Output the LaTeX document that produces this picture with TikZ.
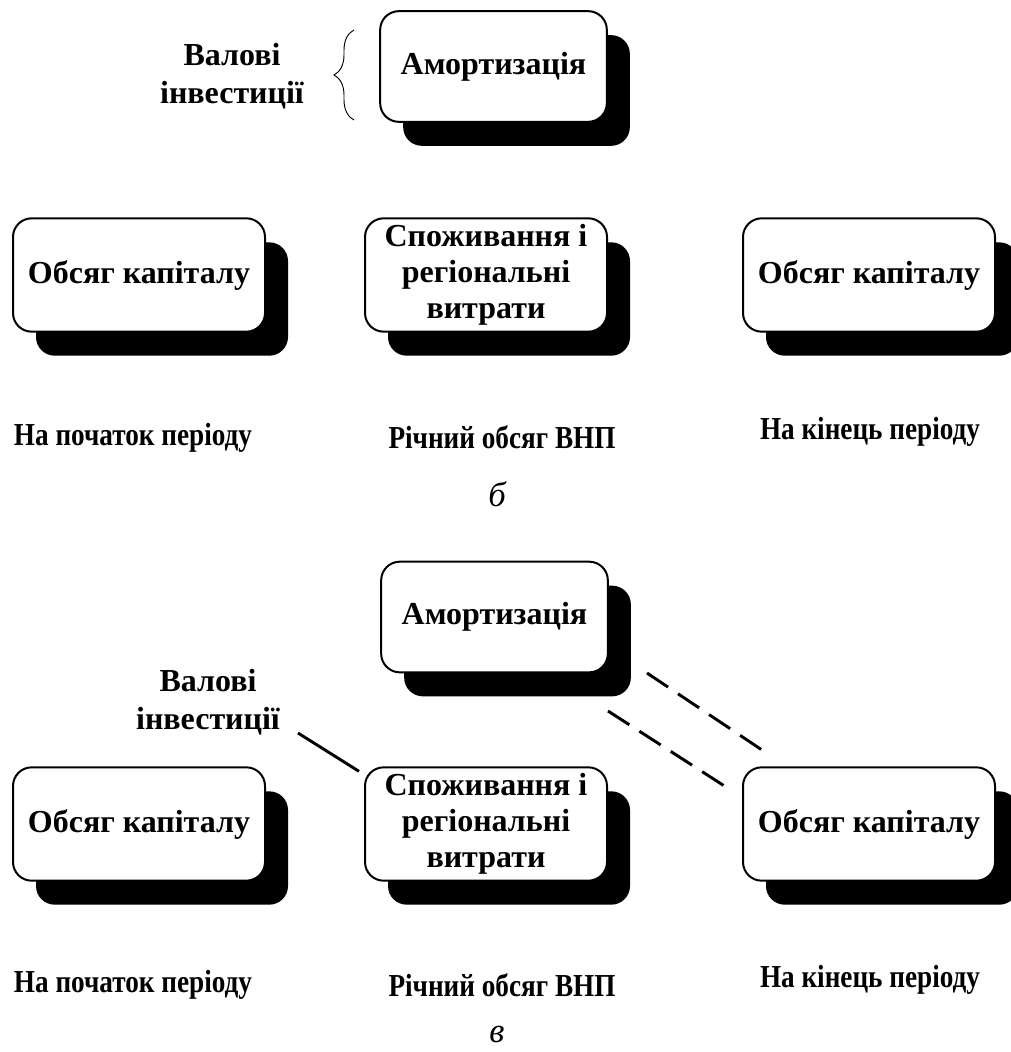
\documentclass[tikz,border=0pt]{standalone}
\usepackage{fontspec}
\usepackage{graphicx}
\setmainfont{Liberation Serif}
\usetikzlibrary{shadows,decorations.pathreplacing}

\tikzset{
  card/.style={draw=black, fill=white, line width=1.5pt, rounded corners=14pt,
    inner sep=0pt, align=center, minimum height=84pt,
    font=\fontsize{24}{27}\selectfont\bfseries,
    general shadow={fill=black, shadow xshift=17.25pt, shadow yshift=-18pt}},
  amort/.style={card, minimum width=170pt, minimum height=83pt},
  stock/.style={card, minimum width=189pt, minimum height=85pt},
  flow/.style={card, minimum width=181.5pt, minimum height=85pt},
  caption/.style={inner sep=0pt, align=center, font=\fontsize{24}{28.5}\selectfont\bfseries},
  period/.style={inner sep=0pt, font=\fontsize{24}{28}\selectfont\bfseries},
  sublabel/.style={inner sep=0pt, font=\fontsize{26}{30}\selectfont\itshape},
  link/.style={line width=2.2pt},
  dlink/.style={line width=2.2pt, dash pattern=on 19pt off 9pt}
}
\newcommand{\narrow}[1]{\scalebox{0.85}[1]{#1}}

\begin{document}
\begin{tikzpicture}[x=0.75pt, y=-0.75pt]
\useasboundingbox (0,0) rectangle (1010,1052);

% ---- panel (б) ----
\node[amort] (a1) at (493.5,66.5) {Амортизація};
\node[caption] (g1) at (232,76) {Валові\\інвестиції};
\draw[line width=0.7pt, decorate, decoration={brace, amplitude=15pt}]
  (354,120) -- (354,30);

\node[stock] (k1) at (139,275) {Обсяг капіталу};
\node[flow]  (c1) at (486,275) {Споживання і\\регіональні\\витрати};
\node[stock] (k2) at (869,275) {Обсяг капіталу};

\node[period] (p1) at (133,438) {\narrow{На початок періоду}};
\node[period] (p2) at (502,437) {\narrow{Річний обсяг ВНП}};
\node[period] (p3) at (870,432) {\narrow{На кінець періоду}};

\node[sublabel] (lb) at (497,494) {б};

% ---- panel (в) ----
\node[amort] (a2) at (494.5,617) {Амортизація};
\node[caption] (g2) at (208,702) {Валові\\інвестиції};

\node[stock] (k3) at (139,824) {Обсяг капіталу};
\node[flow]  (c2) at (486,824) {Споживання і\\регіональні\\витрати};
\node[stock] (k4) at (869,824) {Обсяг капіталу};

% gross investment pointer
\coordinate (gs) at (298,733);
\draw[link] (gs) -- ([shift={(-5,5)}]c2.north west);

% depreciation lines towards the closing stock
\coordinate (d1s) at (647,673);
\coordinate (d1e) at (762,750);
\coordinate (d2s) at (608,711);
\coordinate (d2e) at (726,787);
\draw[dlink] (d1s) -- (d1e);
\draw[dlink] (d2s) -- (d2e);

\node[period] (q1) at (133,985) {\narrow{На початок періоду}};
\node[period] (q2) at (502,985) {\narrow{Річний обсяг ВНП}};
\node[period] (q3) at (870,980) {\narrow{На кінець періоду}};

\node[sublabel] (lv) at (497,1034) {в};
\end{tikzpicture}
\end{document}
